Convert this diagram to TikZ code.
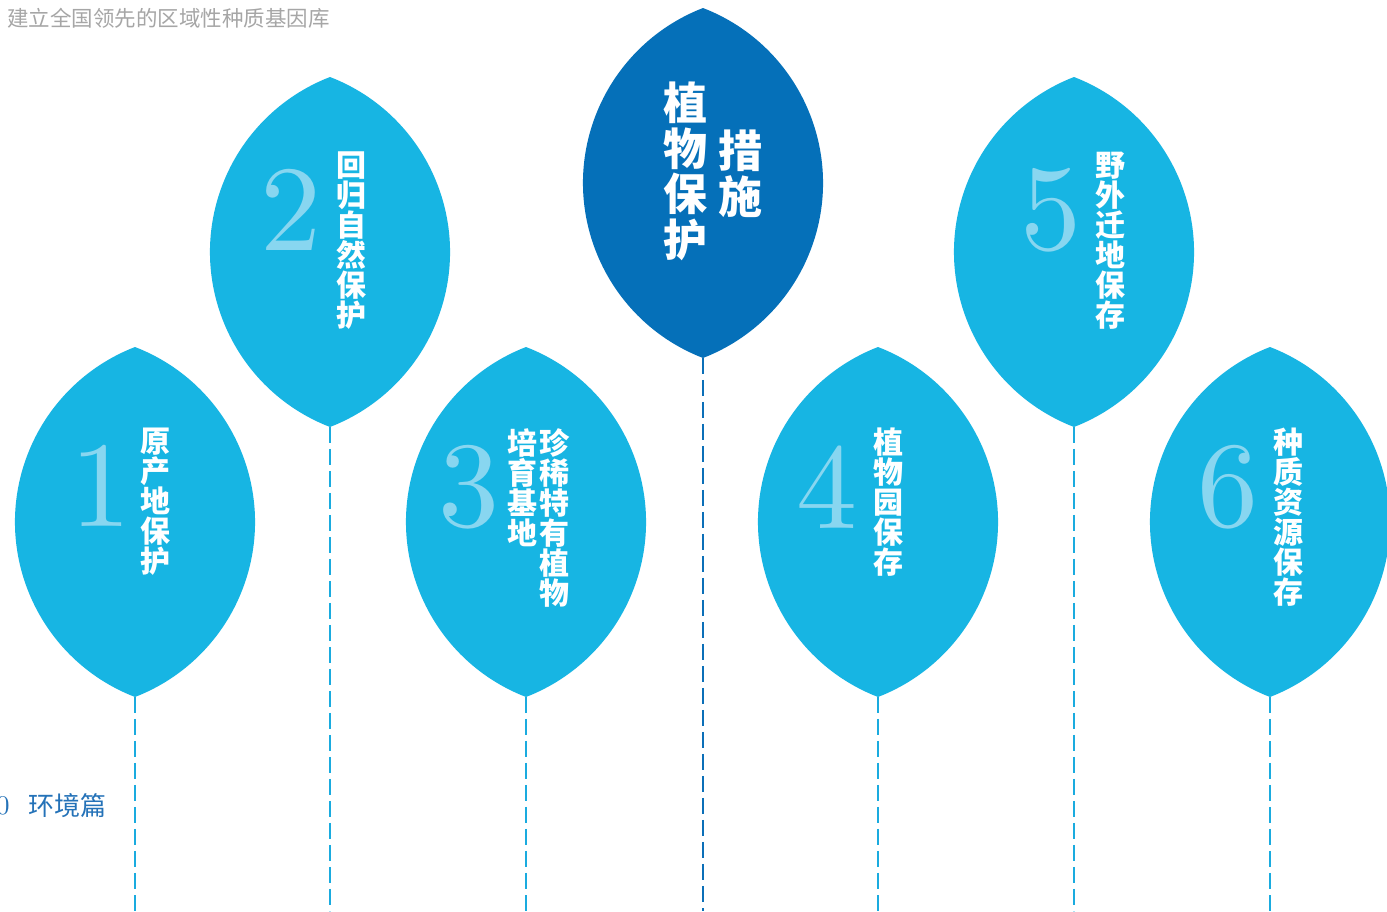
\documentclass[tikz,border=0pt]{standalone}
\usepackage{fontspec}
\newfontfamily\cjk{Noto Sans CJK SC}
\newfontfamily\numfont{lmroman10-regular.otf}
\definecolor{leafc}{HTML}{17B5E3}
\definecolor{leafdark}{HTML}{0570B9}
\definecolor{numc}{HTML}{88D6F0}
\definecolor{dashc}{HTML}{1AABDF}
\definecolor{dashdark}{HTML}{0B6FB8}
\definecolor{graytxt}{HTML}{A6A6A6}
\definecolor{bluetxt}{HTML}{2472B8}
\newcommand\drawleaf[4]{%
  \fill[#4] (#2,#3) coordinate (#1top)
    arc[start angle=-68.88,end angle=68.88,radius=187.6] coordinate (#1bot)
    arc[start angle=111.12,end angle=248.88,radius=187.6] -- cycle;
  \coordinate (#1end) at (#2,911);
}
\begin{document}
\begin{tikzpicture}[x=1pt,y=-1pt,
  numtxt/.style={inner sep=0pt,text=numc,font=\numfont\fontsize{122}{122}\selectfont},
  coltxt/.style={inner sep=0pt,anchor=north,text=white,align=center,font=\cjk\bfseries\fontsize{30}{30}\selectfont},
  bigcol/.style={inner sep=0pt,anchor=north,text=white,align=center,font=\cjk\bfseries\fontsize{44}{45.5}\selectfont},
  dashline/.style={line width=2.8pt,dash pattern=on 16pt off 6pt},
]
\clip (0,0) rectangle (1387,911);
\fill[white] (0,0) rectangle (1387,911);

\drawleaf{l1}{135}{347}{leafc}
\drawleaf{l2}{330}{77}{leafc}
\drawleaf{l3}{526}{347}{leafc}
\drawleaf{lc}{703}{8}{leafdark}
\drawleaf{l4}{878}{347}{leafc}
\drawleaf{l5}{1074}{77}{leafc}
\drawleaf{l6}{1270}{347}{leafc}

\draw[dashline,dashc] (l1bot) -- (l1end);
\draw[dashline,dashc] (l2bot) -- (l2end);
\draw[dashline,dashc] (l3bot) -- (l3end);
\draw[dashline,dashdark] (lcbot) -- (lcend);
\draw[dashline,dashc] (l4bot) -- (l4end);
\draw[dashline,dashc] (l5bot) -- (l5end);
\draw[dashline,dashc] (l6bot) -- (l6end);

\node[numtxt] (n1) at (101,486) {1};
\node[numtxt] (n2) at (291,210) {2};
\node[numtxt] (n3) at (469,487) {3};
\node[numtxt] (n4) at (827,487) {4};
\node[numtxt] (n5) at (1051,210) {5};
\node[numtxt] (n6) at (1228,487) {6};

\node[coltxt] (t1) at (155,428) {原\\产\\地\\保\\护};
\node[coltxt] (t2) at (351,152) {回\\归\\自\\然\\保\\护};
\node[coltxt] (t3a) at (554,428) {珍\\稀\\特\\有\\植\\物};
\node[coltxt] (t3b) at (522,428) {培\\育\\基\\地};
\node[coltxt] (t4) at (888,428) {植\\物\\园\\保\\存};
\node[coltxt] (t5) at (1110,152) {野\\外\\迁\\地\\保\\存};
\node[coltxt] (t6) at (1288,428) {种\\质\\资\\源\\保\\存};

\node[bigcol] (tca) at (685,82) {植\\物\\保\\护};
\node[bigcol] (tcb) at (740,130) {措\\施};

\node[inner sep=0pt,anchor=west,text=graytxt,font=\cjk\fontsize{21.5}{21.5}\selectfont] (title) at (7,18) {建立全国领先的区域性种质基因库};
\node[inner sep=0pt,text=bluetxt,font=\numfont\fontsize{27}{27}\selectfont] (pg) at (3,806) {0};
\node[inner sep=0pt,anchor=west,text=bluetxt,font=\cjk\fontsize{26}{26}\selectfont] (sec) at (28,806) {环境篇};
\end{tikzpicture}
\end{document}
